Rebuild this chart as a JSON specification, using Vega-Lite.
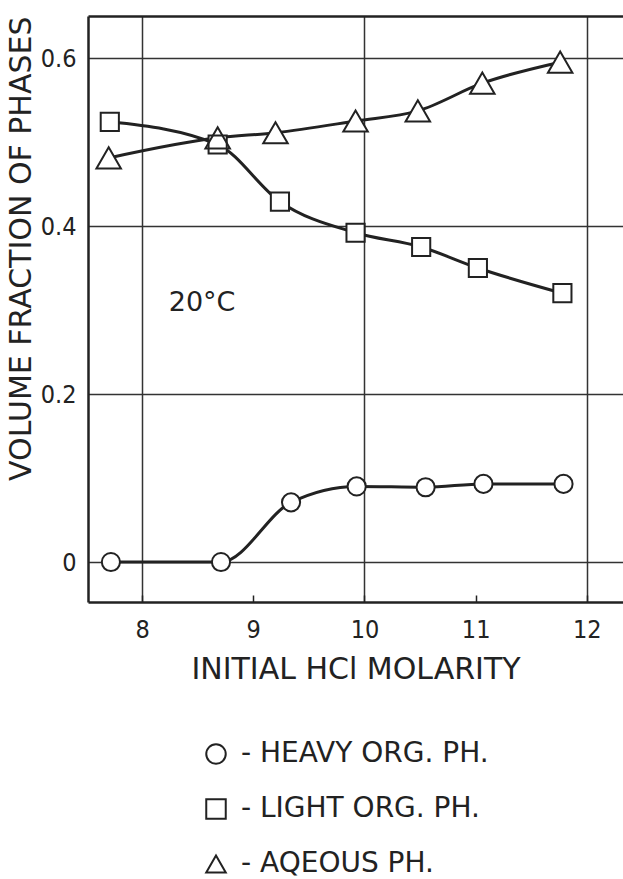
{
  "$schema": "https://vega.github.io/schema/vega-lite/v6.json",
  "autosize": {"type": "none"},
  "width": 535,
  "height": 586,
  "padding": {"left": 88, "top": 16, "right": 0, "bottom": 277},
  "background": "white",
  "config": {
    "view": {"stroke": null},
    "font": "DejaVu Sans"
  },
  "data": {
    "values": [
      {"series": "HEAVY ORG. PH.", "m": 7.72, "v": 0.0},
      {"series": "HEAVY ORG. PH.", "m": 8.71, "v": 0.0},
      {"series": "HEAVY ORG. PH.", "m": 9.34, "v": 0.071},
      {"series": "HEAVY ORG. PH.", "m": 9.93, "v": 0.09},
      {"series": "HEAVY ORG. PH.", "m": 10.55, "v": 0.089},
      {"series": "HEAVY ORG. PH.", "m": 11.07, "v": 0.093},
      {"series": "HEAVY ORG. PH.", "m": 11.79, "v": 0.093},
      {"series": "LIGHT ORG. PH.", "m": 7.71, "v": 0.524},
      {"series": "LIGHT ORG. PH.", "m": 8.68, "v": 0.497},
      {"series": "LIGHT ORG. PH.", "m": 9.24, "v": 0.429},
      {"series": "LIGHT ORG. PH.", "m": 9.92, "v": 0.392},
      {"series": "LIGHT ORG. PH.", "m": 10.51, "v": 0.375},
      {"series": "LIGHT ORG. PH.", "m": 11.02, "v": 0.35},
      {"series": "LIGHT ORG. PH.", "m": 11.78, "v": 0.32},
      {"series": "AQEOUS PH.", "m": 7.7, "v": 0.481},
      {"series": "AQEOUS PH.", "m": 8.68, "v": 0.505},
      {"series": "AQEOUS PH.", "m": 9.2, "v": 0.511},
      {"series": "AQEOUS PH.", "m": 9.92, "v": 0.525},
      {"series": "AQEOUS PH.", "m": 10.48, "v": 0.537},
      {"series": "AQEOUS PH.", "m": 11.06, "v": 0.57},
      {"series": "AQEOUS PH.", "m": 11.76, "v": 0.595}
    ]
  },
  "layer": [
    {
      "mark": {"type": "line", "interpolate": "monotone", "stroke": "#222", "strokeWidth": 3},
      "encoding": {
        "x": {
          "field": "m", "type": "quantitative",
          "scale": {"domain": [7.514, 12.325], "nice": false, "zero": false},
          "axis": {
            "orient": "bottom",
            "values": [8, 9, 10, 11, 12],
            "grid": false,
            "domainColor": "#222", "domainWidth": 2.5,
            "ticks": true, "tickSize": -7, "tickColor": "#222", "tickWidth": 1.5,
            "labelFont": "DejaVu Sans Condensed", "labelFontSize": 25, "labelColor": "#222",
            "labelPadding": 22,
            "title": "INITIAL HCl MOLARITY",
            "titleFont": "DejaVu Sans", "titleFontSize": 30, "titleFontWeight": "normal",
            "titleColor": "#222", "titlePadding": 12
          }
        },
        "y": {
          "field": "v", "type": "quantitative",
          "scale": {"domain": [-0.0476, 0.65], "nice": false, "zero": false},
          "axis": {
            "orient": "left",
            "values": [0, 0.2, 0.4, 0.6],
            "format": ".1~f",
            "grid": true, "gridColor": "#333", "gridWidth": 1.5,
            "domainColor": "#222", "domainWidth": 2.5,
            "ticks": false,
            "labelFont": "DejaVu Sans Condensed", "labelFontSize": 25, "labelColor": "#222",
            "labelPadding": 12,
            "title": "VOLUME FRACTION OF PHASES",
            "titleFont": "DejaVu Sans", "titleFontSize": 30, "titleFontWeight": "normal",
            "titleColor": "#222", "titleAnchor": "end", "titlePadding": 4
          }
        },
        "detail": {"field": "series"}
      }
    },
    {
      "transform": [{"filter": "datum.series == 'HEAVY ORG. PH.'"}],
      "mark": {"type": "point", "shape": "circle", "filled": true, "color": "white", "opacity": 1, "size": 330},
      "encoding": {
        "x": {"field": "m", "type": "quantitative", "axis": null},
        "y": {"field": "v", "type": "quantitative"}
      }
    },
    {
      "transform": [{"filter": "datum.series == 'LIGHT ORG. PH.'"}],
      "mark": {"type": "point", "shape": "square", "filled": true, "color": "white", "opacity": 1, "size": 330},
      "encoding": {
        "x": {"field": "m", "type": "quantitative", "axis": null},
        "y": {"field": "v", "type": "quantitative"}
      }
    },
    {
      "transform": [{"filter": "datum.series == 'AQEOUS PH.'"}],
      "mark": {"type": "point", "shape": "triangle-up", "filled": true, "color": "white", "opacity": 1, "size": 600},
      "encoding": {
        "x": {"field": "m", "type": "quantitative", "axis": null},
        "y": {"field": "v", "type": "quantitative"}
      }
    },
    {
      "transform": [{"filter": "datum.series != 'AQEOUS PH.'"}],
      "mark": {"type": "point", "filled": false, "color": "#222", "strokeWidth": 2, "opacity": 1, "size": 330},
      "encoding": {
        "x": {
          "field": "m", "type": "quantitative",
          "axis": {
            "orient": "top",
            "values": [8, 10, 12],
            "grid": true, "gridColor": "#333", "gridWidth": 1.5,
            "labels": false, "ticks": false, "title": null,
            "domainColor": "#222", "domainWidth": 2.5
          }
        },
        "y": {"field": "v", "type": "quantitative"},
        "shape": {
          "field": "series", "type": "nominal",
          "scale": {"domain": ["HEAVY ORG. PH.", "LIGHT ORG. PH.", "AQEOUS PH."], "range": ["circle", "square", "triangle-up"]},
          "legend": {
            "orient": "none", "legendX": 114, "legendY": 724,
            "title": null,
            "labelExpr": "'- ' + datum.label",
            "labelFont": "DejaVu Sans", "labelFontSize": 28, "labelColor": "#222", "labelLimit": 500,
            "labelOffset": 11, "rowPadding": 27,
            "symbolSize": 380, "symbolStrokeWidth": 2
          }
        }
      }
    },
    {
      "transform": [{"filter": "datum.series == 'AQEOUS PH.'"}],
      "mark": {"type": "point", "filled": false, "color": "#222", "strokeWidth": 2, "opacity": 1, "size": 600},
      "encoding": {
        "x": {"field": "m", "type": "quantitative", "axis": null},
        "y": {"field": "v", "type": "quantitative"},
        "shape": {"field": "series", "type": "nominal"}
      }
    },
    {
      "data": {"values": [{"label": "20°C"}]},
      "mark": {"type": "text", "font": "DejaVu Sans", "fontSize": 27, "fill": "#222", "baseline": "middle", "align": "center"},
      "encoding": {
        "text": {"field": "label"},
        "x": {"datum": 8.54, "type": "quantitative", "axis": null},
        "y": {"datum": 0.308, "type": "quantitative"}
      }
    }
  ],
  "resolve": {"axis": {"x": "independent"}}
}
